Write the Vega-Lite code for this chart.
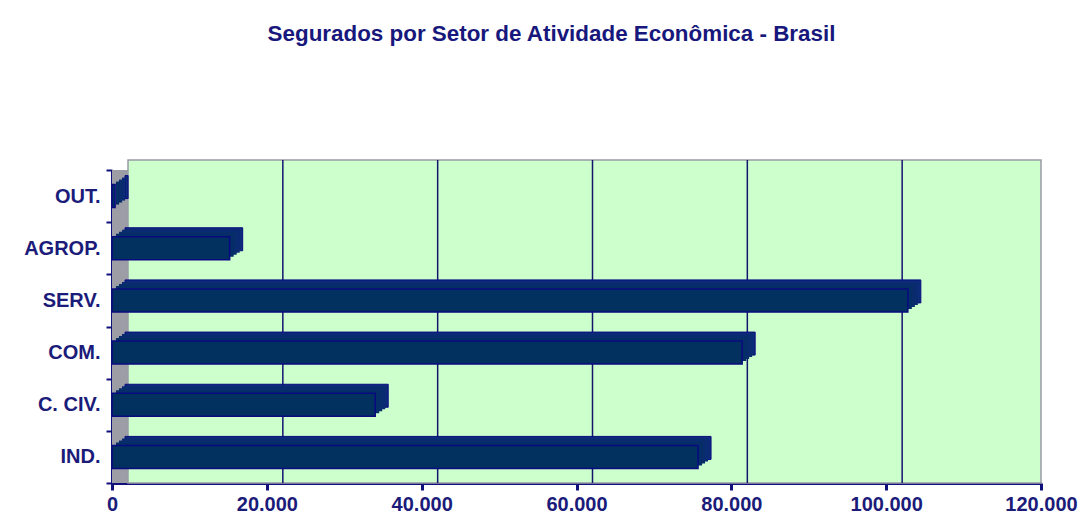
{
  "$schema": "https://vega.github.io/schema/vega-lite/v6.json",
  "width": 929,
  "height": 313,
  "autosize": "none",
  "padding": {"left": 112, "top": 170, "right": 40, "bottom": 34},
  "background": "white",
  "title": {
    "text": "Segurados por Setor de Atividade Econômica - Brasil",
    "font": "Liberation Sans",
    "fontSize": 22.4,
    "fontWeight": "bold",
    "color": "#17177c",
    "anchor": "middle",
    "dx": -25,
    "offset": 114
  },
  "datasets": {
    "setores": [
      {"setor": "OUT.", "segurados": 400},
      {"setor": "AGROP.", "segurados": 15200},
      {"setor": "SERV.", "segurados": 102800},
      {"setor": "COM.", "segurados": 81400},
      {"setor": "C. CIV.", "segurados": 34000},
      {"setor": "IND.", "segurados": 75700}
    ],
    "grade": [{"v": 20000}, {"v": 40000}, {"v": 60000}, {"v": 80000}, {"v": 100000}]
  },
  "data": {"name": "setores"},
  "config": {
    "view": {"fill": "#d6f6d6", "stroke": null},
    "axis": {
      "labelFont": "Liberation Sans",
      "labelFontWeight": "bold",
      "labelFontSize": 20,
      "labelColor": "#1b1b7a",
      "domainColor": "#10107a",
      "tickColor": "#10107a",
      "grid": false,
      "title": null
    },
    "axisX": {
      "domainWidth": 3,
      "tickWidth": 3,
      "tickSize": 7,
      "labelPadding": 4,
      "labelFlush": false,
      "labelExpr": "replace(format(datum.value, ','), ',', '.')"
    },
    "axisY": {
      "domainWidth": 3,
      "tickWidth": 2,
      "tickSize": 6,
      "tickBand": "extent",
      "labelPadding": 6
    }
  },
  "layer": [
    {
      "data": {"values": [{}]},
      "mark": {"type": "rect", "fill": "#9d9da6"},
      "encoding": {
        "x": {"datum": 0, "type": "quantitative", "title": null, "axis": {"values": [0, 20000, 40000, 60000, 80000, 100000, 120000]}},
        "x2": {"datum": 2070}
      }
    },
    {
      "data": {"values": [{}]},
      "mark": {"type": "rect", "fill": "#ccffcc", "stroke": "#9a9aa8", "strokeWidth": 1.5, "xOffset": 16, "yOffset": -10},
      "encoding": {
        "x": {"datum": 0, "type": "quantitative", "title": null, "axis": {"values": [0, 20000, 40000, 60000, 80000, 100000, 120000]}},
        "x2": {"datum": 120000}
      }
    },
    {
      "data": {"name": "grade"},
      "mark": {"type": "rule", "color": "#14146e", "strokeWidth": 1.5, "xOffset": 16, "yOffset": -10},
      "encoding": {
        "x": {"field": "v", "type": "quantitative", "title": null, "axis": {"values": [0, 20000, 40000, 60000, 80000, 100000, 120000]}}
      }
    },
    {
      "mark": {"type": "bar", "size": 23, "fill": "#0c2b78", "stroke": "#0a0a80", "strokeWidth": 1, "xOffset": 13, "yOffset": -9},
      "encoding": {
        "y": {"field": "setor", "type": "nominal", "title": null, "sort": ["OUT.", "AGROP.", "SERV.", "COM.", "C. CIV.", "IND."], "scale": {"paddingInner": 0, "paddingOuter": 0}},
        "x": {"field": "segurados", "type": "quantitative", "title": null, "scale": {"domain": [0, 120000], "nice": false}, "axis": {"values": [0, 20000, 40000, 60000, 80000, 100000, 120000]}}
      }
    },
    {
      "mark": {"type": "bar", "size": 23, "fill": "#0a2b72", "xOffset": 10, "yOffset": -7},
      "encoding": {
        "y": {"field": "setor", "type": "nominal", "title": null, "sort": ["OUT.", "AGROP.", "SERV.", "COM.", "C. CIV.", "IND."]},
        "x": {"field": "segurados", "type": "quantitative", "title": null}
      }
    },
    {
      "mark": {"type": "bar", "size": 23, "fill": "#082c6c", "xOffset": 7, "yOffset": -5},
      "encoding": {
        "y": {"field": "setor", "type": "nominal", "title": null, "sort": ["OUT.", "AGROP.", "SERV.", "COM.", "C. CIV.", "IND."]},
        "x": {"field": "segurados", "type": "quantitative", "title": null}
      }
    },
    {
      "mark": {"type": "bar", "size": 23, "fill": "#052e66", "xOffset": 4, "yOffset": -3},
      "encoding": {
        "y": {"field": "setor", "type": "nominal", "title": null, "sort": ["OUT.", "AGROP.", "SERV.", "COM.", "C. CIV.", "IND."]},
        "x": {"field": "segurados", "type": "quantitative", "title": null}
      }
    },
    {
      "mark": {"type": "bar", "size": 23, "fill": "#02305f", "stroke": "#0a0a80", "strokeWidth": 1.5},
      "encoding": {
        "y": {"field": "setor", "type": "nominal", "title": null, "sort": ["OUT.", "AGROP.", "SERV.", "COM.", "C. CIV.", "IND."]},
        "x": {"field": "segurados", "type": "quantitative", "title": null, "axis": {"values": [0, 20000, 40000, 60000, 80000, 100000, 120000]}}
      }
    }
  ]
}
